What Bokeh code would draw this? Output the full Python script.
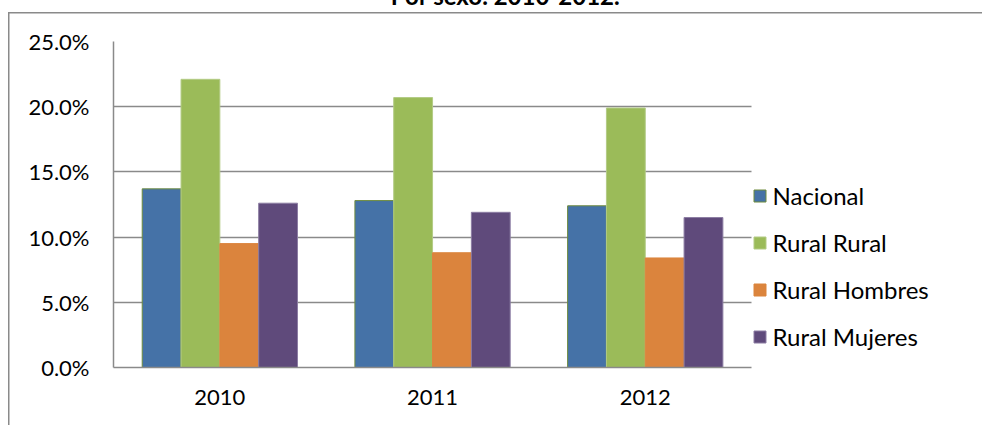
from bokeh.plotting import figure
from bokeh.models import (ColumnDataSource, Range1d, NumeralTickFormatter,
                          FixedTicker, Legend, LegendItem, Label)
from bokeh.transform import dodge
from bokeh.embed import file_html
from bokeh.resources import INLINE

# ---- data ----
years = [2010, 2011, 2012]
year_labels = ["2010", "2011", "2012"]
series_names = ["Nacional", "Rural Rural", "Rural Hombres", "Rural Mujeres"]
nacional = [0.137, 0.128, 0.124]
rural_rural = [0.221, 0.207, 0.199]
rural_hombres = [0.095, 0.088, 0.084]
rural_mujeres = [0.126, 0.119, 0.115]
y_ticks = [0.0, 0.05, 0.10, 0.15, 0.20, 0.25]
title_text = "Por sexo. 2010-2012."

series_values = [nacional, rural_rural, rural_hombres, rural_mujeres]
fills = ["#4572A7", "#9BBB59", "#DB843D", "#5F4A7B"]
lines = ["#6E8B3D", "#B3CB85", "#DB843D", "#8C7DA3"]

FONT = "Lato"
GRID = "#8A8A8A"

W, H = 982, 425
LEFT, TOP, BOTTOM = 113, 41, 58
CAT_PX = 212.7                      # pixel width of one year category
x_start = years[0] - 0.5
x_end = x_start + (W - LEFT) / CAT_PX   # frame runs on to the right edge (legend area)
cat_bounds = (years[0] - 0.5, years[-1] + 0.5)

p = figure(x_range=Range1d(x_start, x_end),
           y_range=Range1d(0, 0.25),
           width=W, height=H,
           output_backend="svg", toolbar_location=None,
           min_border_left=LEFT, min_border_right=0,
           min_border_top=TOP, min_border_bottom=BOTTOM)
p.background_fill_color = None
p.border_fill_color = None
p.outline_line_color = None
# outer chart-area border (left and top edges), drawn behind the canvas
p.styles = {
    "background-color": "white",
    "background-image": f"linear-gradient({GRID}, {GRID}), linear-gradient({GRID}, {GRID})",
    "background-size": "100% 1.5px, 1.5px 100%",
    "background-position": "8px 12px, 8px 12px",
    "background-repeat": "no-repeat",
}

bar_w = 0.1825
offsets = [-1.5 * bar_w, -0.5 * bar_w, 0.5 * bar_w, 1.5 * bar_w]
items = []
for name, vals, fc, lc, off in zip(series_names, series_values, fills, lines, offsets):
    src = ColumnDataSource(dict(year=years, value=vals))
    r = p.vbar(x=dodge("year", off), top="value", width=bar_w,
               source=src, fill_color=fc, line_color=lc, line_width=1)
    items.append(LegendItem(label=name, renderers=[r]))

# axes
p.yaxis.ticker = FixedTicker(ticks=y_ticks)
p.yaxis.formatter = NumeralTickFormatter(format="0.0%")
p.xaxis.ticker = FixedTicker(ticks=years)
p.xaxis.major_label_overrides = {y: lbl for y, lbl in zip(years, year_labels)}
p.xaxis.bounds = cat_bounds
for ax in (p.xaxis, p.yaxis):
    ax.axis_line_color = GRID
    ax.axis_line_width = 1.5
    ax.major_tick_line_color = None
    ax.minor_tick_line_color = None
    ax.major_tick_out = 0
    ax.major_tick_in = 0
    ax.minor_tick_out = 0
    ax.minor_tick_in = 0
    ax.major_label_text_font = FONT
    ax.major_label_text_font_size = "22px"
    ax.major_label_text_color = "black"
p.yaxis.major_label_standoff = 24
p.xaxis.major_label_standoff = 22

p.xgrid.grid_line_color = None
p.ygrid.grid_line_color = GRID
p.ygrid.grid_line_width = 1.5
p.ygrid.cross_bounds = cat_bounds

# legend (right of the bars, inside the extended frame)
legend = Legend(items=items, location=(638.5, 16), orientation="vertical",
                glyph_width=15, glyph_height=15, label_standoff=6,
                label_height=28, spacing=18, padding=0, margin=0,
                border_line_color=None, background_fill_alpha=0,
                label_text_font=FONT, label_text_font_size="24px",
                label_text_color="black")
p.add_layout(legend)

# title (partly cut off at the top edge in the original)
title = Label(x=392, y=46, x_units="screen", y_units="screen", text=title_text,
              text_font=FONT, text_font_style="bold", text_font_size="24px",
              text_align="center", text_baseline="alphabetic", text_color="black")
p.add_layout(title, "above")

open("out.html", "w").write(file_html(p, INLINE))
